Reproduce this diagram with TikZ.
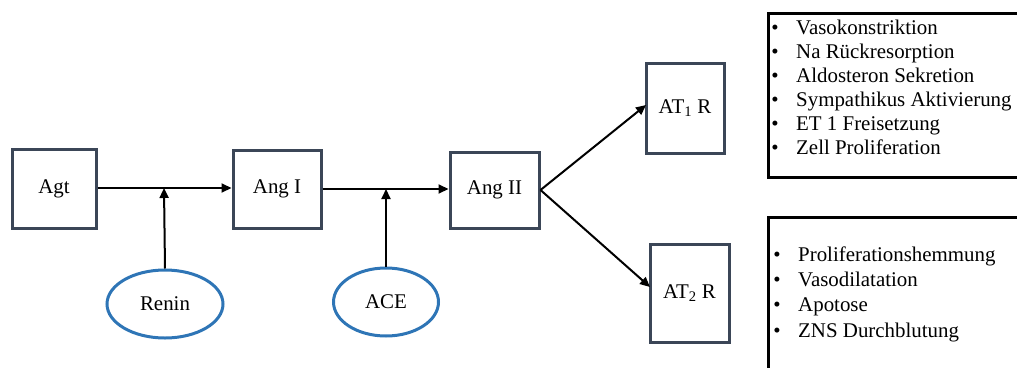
\documentclass[tikz,border=0pt]{standalone}
\usepackage{fontspec}
\setmainfont{Liberation Serif}
\newfontfamily\tnr{Liberation Serif}
\usetikzlibrary{arrows.meta,shapes.geometric}
\definecolor{boxc}{HTML}{3B4657}
\definecolor{ellc}{HTML}{2E75B6}
\tikzset{
  txt/.style={font=\tnr\fontsize{20.9}{24}\selectfont},
  boxn/.style={draw=boxc,line width=3pt,minimum width=#1,inner sep=0pt,txt},
  elln/.style={ellipse,draw=ellc,line width=3pt,inner sep=0pt,txt},
  arr/.style={line width=2pt,-{Triangle[length=10pt,width=9pt]}},
  listbox/.style={draw=black,line width=3pt},
  item/.style={anchor=mid west,inner sep=0pt,txt},
  bul/.style={anchor=mid,inner sep=0pt,txt}
}
\begin{document}
\begin{tikzpicture}[x=1pt,y=-1pt]
\useasboundingbox (0,0) rectangle (1017,367);
\node[boxn=84pt,minimum height=79pt] (agt) at (54,189) {Agt};
\node[boxn=88pt,minimum height=78pt] (ang1) at (277,189) {Ang I};
\node[boxn=89pt,minimum height=76pt] (ang2) at (494.5,190) {Ang II};
\node[boxn=78pt,minimum height=90pt] (at1) at (685,108) {AT\textsubscript{1} R};
\node[boxn=79pt,minimum height=98pt] (at2) at (689.5,293) {AT\textsubscript{2} R};
\node[elln,minimum width=116pt,minimum height=68pt] (renin) at (165,304) {Renin};
\node[elln,minimum width=105pt,minimum height=68pt] (ace) at (386,302) {ACE};
\coordinate (j1) at (164,188);
\coordinate (j2) at (386,189);
\coordinate (t1) at (646,105);
\coordinate (t2) at (650,287);
\draw[arr] (agt.east |- j1) -- (ang1.west |- j1);
\draw[arr] (ang1.east |- j2) -- (ang2.west |- j2);
\draw[arr] (renin.north) -- (j1);
\draw[arr] (ace.north) -- (j2);
\draw[arr] (ang2.east) -- (t1);
\draw[arr] (ang2.east) -- (t2);
\begin{scope}
\clip (0,0) rectangle (1017,367);
\draw[listbox] (768,13) rectangle (1030,177);
\draw[listbox] (768,217) rectangle (1030,380);
\end{scope}
\foreach \t [count=\i] in {Vasokonstriktion,Na Rückresorption,Aldosteron Sekretion,Sympathikus Aktivierung,ET 1 Freisetzung,Zell Proliferation}{
  \node[bul] (b\i) at (775,{32+24*(\i-1)}) {\textbullet};
  \node[item] (l\i) at (796,{32+24*(\i-1)}) {\t};
}
\foreach \t [count=\i] in {Proliferationshemmung,Vasodilatation,Apotose,ZNS Durchblutung}{
  \node[bul] (c\i) at (777,{259+25.3*(\i-1)}) {\textbullet};
  \node[item] (m\i) at (798,{259+25.3*(\i-1)}) {\t};
}
\end{tikzpicture}
\end{document}
